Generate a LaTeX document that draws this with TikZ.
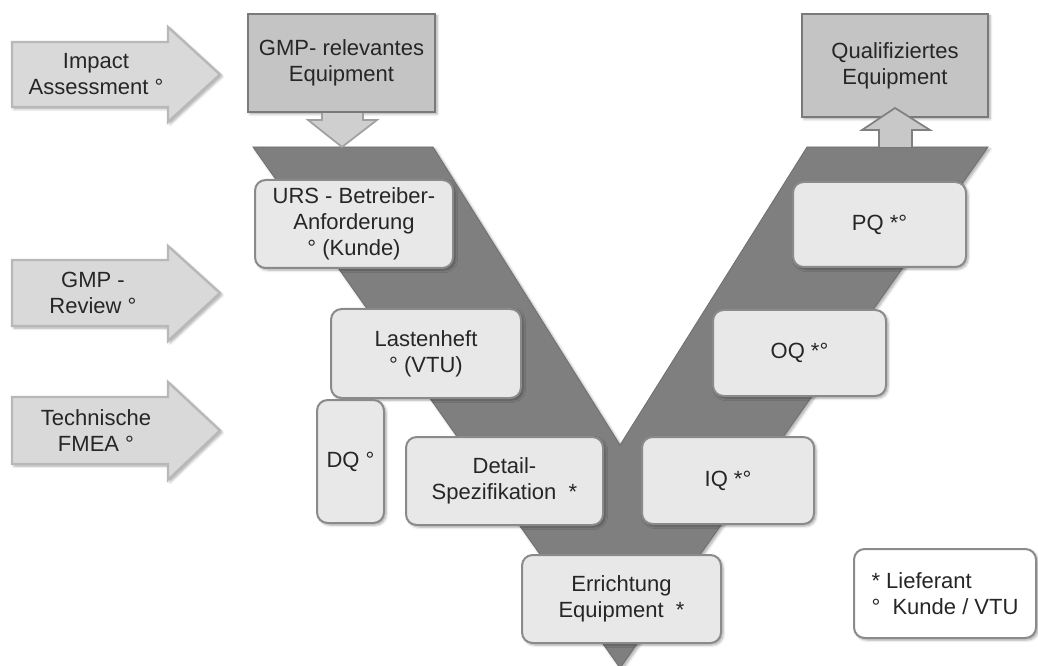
\documentclass[tikz,border=0pt]{standalone}
\usepackage{fontspec}
\setmainfont{Liberation Sans}
\usetikzlibrary{shadows.blur}

\definecolor{txt}{HTML}{262626}
\definecolor{vgray}{HTML}{7F7F7F}
\definecolor{vedge}{HTML}{6E6E6E}
\definecolor{arrowfill}{HTML}{D9D9D9}
\definecolor{arrowline}{HTML}{B8B8B8}
\definecolor{topfill}{HTML}{C4C4C4}
\definecolor{topline}{HTML}{7A7A7A}
\definecolor{downfill}{HTML}{CFCFCF}
\definecolor{downline}{HTML}{A0A0A0}
\definecolor{upfill}{HTML}{C8C8C8}
\definecolor{upline}{HTML}{808080}
\definecolor{boxfill}{HTML}{E8E8E8}
\definecolor{boxline}{HTML}{8A8A8A}

\tikzset{
  lbl/.style={font=\fontsize{16.5}{19.5}\selectfont, text=txt, align=center},
  softshadow/.style={blur shadow={shadow xshift=1.5pt, shadow yshift=-1.5pt,
      shadow blur steps=6, shadow blur radius=2pt, shadow opacity=35}},
  sidearrow/.style={fill=arrowfill, draw=arrowline, line width=1.8pt,
      line join=miter, softshadow},
  vshape/.style={fill=vgray, draw=vedge, line width=0.6pt, softshadow},
  topbox/.style={lbl, rectangle, fill=topfill, draw=topline, line width=1.6pt,
      inner sep=2pt, softshadow},
  blockarrow/.style={line width=1.3pt, line join=miter},
  stepbox/.style={lbl, rectangle, rounded corners=8pt, fill=boxfill,
      draw=boxline, line width=1.5pt, inner sep=2pt, softshadow},
  legendbox/.style={font=\fontsize{16.5}{19.5}\selectfont, text=txt,
      align=left, rectangle, rounded corners=8pt, fill=white, draw=boxline,
      line width=1.5pt, inner sep=0pt, softshadow},
}

\begin{document}
\begin{tikzpicture}[x=0.75pt, y=-0.75pt]
\useasboundingbox (0,0) rectangle (1038,666);

% ---- input arrows on the left ----
\draw[sidearrow] (12,42) -- (168,42) -- (168,27) -- (220,74.5)
  -- (168,122) -- (168,107) -- (12,107) -- cycle;
\node[lbl] (impact) at (96,74.5) {Impact\\Assessment °};

\draw[sidearrow] (12,260) -- (168,260) -- (168,246) -- (220,293)
  -- (168,341) -- (168,326) -- (12,326) -- cycle;
\node[lbl] (review) at (93,293) {GMP -\\Review °};

\draw[sidearrow] (12,397) -- (168,397) -- (168,382) -- (220,430.5)
  -- (168,480) -- (168,464) -- (12,464) -- cycle;
\node[lbl] (fmea) at (96,430.5) {Technische\\FMEA °};

% ---- the V ----
\draw[vshape] (253,147) -- (433,147) -- (620,445) -- (807,147)
  -- (988,147) -- (620,668) -- cycle;

% ---- top boxes with their block arrows ----
\node[topbox, minimum width=140.25pt, minimum height=73.5pt]
  (gmp) at (341.5,63) {GMP- relevantes\\Equipment};
\coordinate (gmptip) at (342,147);
\draw[blockarrow, fill=downfill, draw=downline]
  (gmp.south -| 322,0) -- (322,120) -- (308,120) -- (gmptip)
  -- (377,120) -- (363,120) -- (gmp.south -| 363,0);

\node[topbox, minimum width=139.5pt, minimum height=77.25pt]
  (qual) at (895,65.5) {Qualifiziertes\\Equipment};
\coordinate (qualtip) at (895,108);
\draw[blockarrow, fill=upfill, draw=upline]
  (879,147) -- (879,130) -- (862,130) -- (qualtip)
  -- (930,130) -- (912,130) -- (912,147);

% ---- left branch: specification ----
\node[stepbox, minimum width=148.5pt, minimum height=66pt]
  (urs) at (354,224) {URS - Betreiber-\\Anforderung\\° (Kunde)};
\node[stepbox, minimum width=142.5pt, minimum height=66.75pt]
  (lasten) at (426,353.5) {Lastenheft\\° (VTU)};
\node[stepbox, minimum width=50.25pt, minimum height=92.25pt]
  (dq) at (350.5,461.5) {DQ °};
\node[stepbox, minimum width=147.75pt, minimum height=66pt]
  (detail) at (504.5,481) {Detail-\\Spezifikation\ \ *};

% ---- bottom ----
\node[stepbox, minimum width=149.25pt, minimum height=66pt]
  (errichtung) at (621.5,599) {Errichtung\\Equipment\ \ *};

% ---- right branch: qualification ----
\node[stepbox, minimum width=129pt, minimum height=65.25pt]
  (iq) at (728,480.5) {IQ *°};
\node[stepbox, minimum width=129.75pt, minimum height=64.5pt]
  (oq) at (799.5,353) {OQ *°};
\node[stepbox, minimum width=129.75pt, minimum height=63.75pt]
  (pq) at (879.5,224.5) {PQ *°};

% ---- legend ----
\node[legendbox, minimum width=136.5pt, minimum height=66.75pt]
  (legend) at (945,593.5) {* Lieferant\\°\ \ Kunde / VTU};
\end{tikzpicture}
\end{document}
